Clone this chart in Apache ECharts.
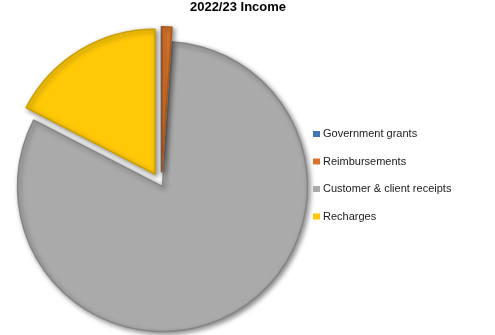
<!DOCTYPE html>
<html>
<head>
<meta charset="utf-8">
<script src="https://cdn.jsdelivr.net/npm/echarts@6/dist/echarts.min.js"></script>
<style>
  html, body { margin: 0; padding: 0; background: #ffffff; }
  #chart { width: 495px; height: 335px; }
</style>
</head>
<body>
<div id="chart"></div>
<script>
// Income sources for the year, as shares of total income (%)
const categories = ['Government grants', 'Reimbursements', 'Customer & client receipts', 'Recharges'];
const shares = [0, 1.1, 81.4, 17.4];

// Slice appearance
const fills   = ['#3f78b5', '#d8742c', '#aaaaaa', '#ffc908'];
const borders = ['#2f5d8f', '#a8561c', '#858585', '#c9a000'];
const explode = [13, 13, 2, 12.5];   // pull-out distance of each slice, px

const CENTER = [161.5, 184.8];
const RADIUS = 145;

// One pie layer per slice: every layer lays out all categories so the
// angles stay identical, but only its own slice is painted and pulled out.
const series = categories.map((_, k) => ({
  type: 'pie',
  name: 'layer' + k,
  center: CENTER,
  radius: RADIUS,
  startAngle: 90,
  clockwise: true,
  selectedMode: 'multiple',
  selectedOffset: explode[k],
  label: { show: false },
  labelLine: { show: false },
  emphasis: { disabled: true },
  silent: true,
  z: k === 2 ? 1 : 2,
  data: categories.map((name, i) => ({
    name,
    value: shares[i],
    selected: i === k,
    itemStyle: i === k ? {
      color: fills[i],
      borderColor: borders[i],
      borderWidth: 1.5,
      shadowColor: 'rgba(0,0,0,0.45)',
      shadowBlur: 5,
      shadowOffsetX: 2,
      shadowOffsetY: 2
    } : {
      color: 'rgba(0,0,0,0)',
      borderWidth: 0,
      shadowBlur: 0
    },
    select: { itemStyle: i === k ? { color: fills[i], borderColor: borders[i] } : { color: 'rgba(0,0,0,0)', borderWidth: 0 } }
  }))
}));

const chart = echarts.init(document.getElementById('chart'), null, { renderer: 'canvas' });
chart.setOption({
  animation: false,
  backgroundColor: '#ffffff',
  title: {
    text: '2022/23 Income',
    left: 238,
    textAlign: 'center',
    top: 1,
    padding: 0,
    textStyle: { fontFamily: 'Liberation Sans, Arial, sans-serif', fontSize: 13, fontWeight: 'bold', color: '#000000' }
  },
  legend: {
    orient: 'vertical',
    left: 313,
    top: 128,
    padding: 0,
    itemWidth: 7,
    itemHeight: 6,
    itemGap: 15.5,
    icon: 'rect',
    selectedMode: false,
    textStyle: { fontFamily: 'Liberation Sans, Arial, sans-serif', fontSize: 11, color: '#1a1a1a', lineHeight: 12, padding: [0, 0, 0, -2] },
    data: categories.map((name, i) => ({ name, itemStyle: { color: fills[i], borderWidth: 0 } }))
  },
  series
});
</script>
</body>
</html>
